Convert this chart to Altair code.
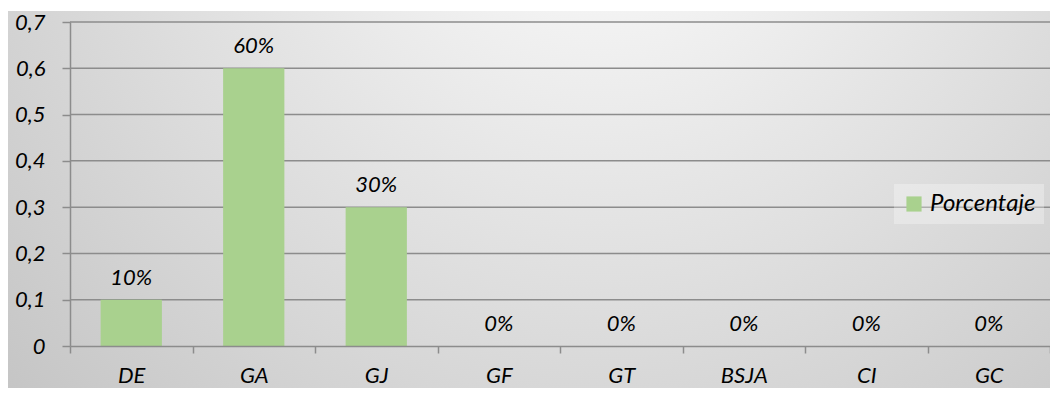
import altair as alt
import pandas as pd

categories = ["DE", "GA", "GJ", "GF", "GT", "BSJA", "CI", "GC"]
values = [0.1, 0.6, 0.3, 0, 0, 0, 0, 0]
series_name = "Porcentaje"
y_ticks = [0, 0.1, 0.2, 0.3, 0.4, 0.5, 0.6, 0.7]

df = pd.DataFrame({"cat": categories, "val": values, "serie": [series_name] * len(categories)})
df["lbl"] = [f"{round(v * 100)}%" for v in values]
grid_df = pd.DataFrame({"t": y_ticks[1:]})

W, H = 980, 324
PL, PT, PR, PB = 62, 14, 0, 42
FONT = "Lato"
FS = 22
GRAY = "#8c8c8c"

grad = alt.RadialGradient(
    gradient="radial",
    stops=[alt.GradientStop(offset=0, color="#ffffff"),
           alt.GradientStop(offset=1, color="#c0c0c0")],
    x1=0.57, y1=0.15, x2=0.57, y2=0.15, r1=0, r2=0.85,
)

bg = alt.Chart(pd.DataFrame({"a": [0]})).mark_rect(fill=grad, stroke=None).encode(
    x=alt.value(-PL), x2=alt.value(W + PR), y=alt.value(-PT + 3), y2=alt.value(H + PB)
)

yscale = alt.Scale(domain=[0, 0.7], nice=False)
yaxis = alt.Axis(title=None, values=y_ticks, tickSize=8, labelPadding=17,
                 labelFontSize=FS, labelFontStyle="italic", labelFont=FONT,
                 labelColor="#000000", domainColor=GRAY, tickColor=GRAY,
                 domainWidth=1.5, tickWidth=1.5, grid=False, zindex=1,
                 labelExpr="replace(format(datum.value, '.1~f'), '.', ',')")

grid = alt.Chart(grid_df).mark_rule(color=GRAY, strokeWidth=1.5).encode(
    y=alt.Y("t:Q", scale=yscale, axis=yaxis), x=alt.value(0), x2=alt.value(W)
)

xenc = alt.X("cat:N", sort=categories,
             scale=alt.Scale(paddingInner=0, paddingOuter=0),
             axis=alt.Axis(title=None, labelAngle=0, tickBand="extent", tickSize=7,
                           labelPadding=12, labelFontSize=FS, labelFontStyle="italic",
                           labelFont=FONT, labelColor="#000000", domainColor=GRAY,
                           tickColor=GRAY, domainWidth=1.5, tickWidth=1.5, grid=False,
                           zindex=1))
yenc = alt.Y("val:Q", scale=yscale, axis=yaxis)

base = alt.Chart(df)
bars = base.mark_bar(width=alt.RelativeBandSize(0.5)).encode(
    x=xenc, y=yenc,
    color=alt.Color("serie:N", scale=alt.Scale(range=["#a9d18e"]),
                    legend=alt.Legend(title=None, orient="none", legendX=824, legendY=162,
                                      symbolType="square", symbolSize=230, symbolStrokeWidth=0,
                                      labelFontSize=24, labelFontStyle="italic", labelFont=FONT,
                                      labelColor="#000000", padding=8,
                                      fillColor="rgba(255,255,255,0.3)")),
)
labels = base.mark_text(baseline="bottom", dy=-10, fontSize=FS, fontStyle="italic",
                        font=FONT, color="#000000").encode(
    x=alt.X("cat:N", sort=categories), y=alt.Y("val:Q", scale=yscale, axis=yaxis), text="lbl:N")

chart = alt.layer(bg, grid, bars, labels).properties(
    width=W, height=H,
    autosize=alt.AutoSizeParams(type="none"),
    padding={"left": PL, "top": PT, "right": PR, "bottom": PB},
).configure_view(stroke=None).configure_axis(domainCap="butt")

chart.save("out.html", embed_options={"renderer": "svg", "actions": False})
